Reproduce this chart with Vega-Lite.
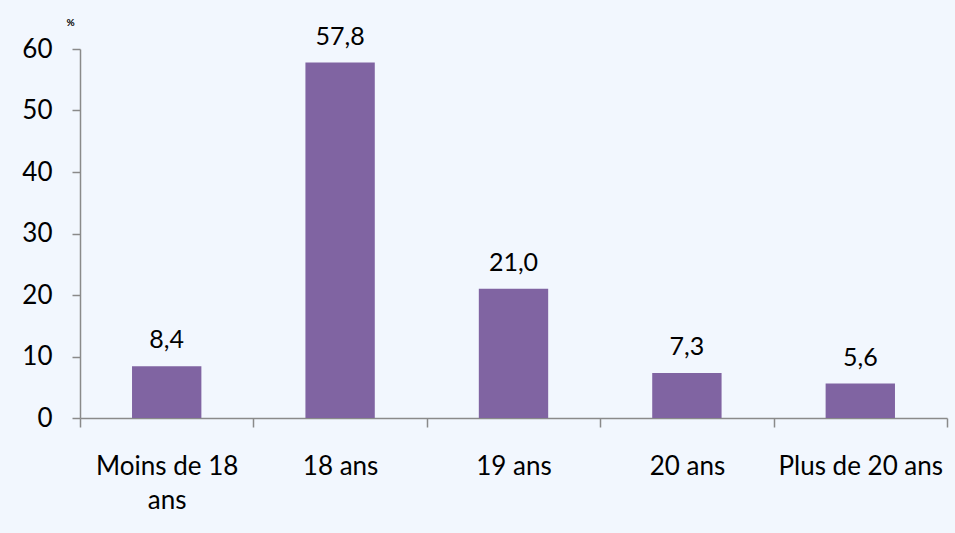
{
  "$schema": "https://vega.github.io/schema/vega-lite/v6.json",
  "autosize": {"type": "none"},
  "width": 867,
  "height": 369,
  "padding": {"left": 80, "top": 49, "right": 8, "bottom": 115},
  "background": "#f2f7fe",
  "config": {
    "view": {"stroke": null},
    "font": "Lato",
    "axis": {"labelFont": "Lato", "titleFont": "Lato"}
  },
  "data": {
    "values": [
      {"categorie": "Moins de 18 ans", "pourcentage": 8.4, "etiquette": "8,4"},
      {"categorie": "18 ans", "pourcentage": 57.8, "etiquette": "57,8"},
      {"categorie": "19 ans", "pourcentage": 21.0, "etiquette": "21,0"},
      {"categorie": "20 ans", "pourcentage": 7.3, "etiquette": "7,3"},
      {"categorie": "Plus de 20 ans", "pourcentage": 5.6, "etiquette": "5,6"}
    ]
  },
  "encoding": {
    "x": {
      "field": "categorie",
      "type": "nominal",
      "sort": null,
      "scale": {"paddingInner": 0, "paddingOuter": 0},
      "axis": {
        "title": null,
        "labelAngle": 0,
        "labelFontSize": 26,
        "labelColor": "#000000",
        "labelBaseline": "alphabetic",
        "labelPadding": 47,
        "labelLineHeight": 34,
        "labelExpr": "datum.value == 'Moins de 18 ans' ? ['Moins de 18', 'ans'] : datum.value",
        "tickBand": "extent",
        "tickSize": 9,
        "tickColor": "#8a8a8a",
        "tickWidth": 1.5,
        "domainColor": "#8a8a8a",
        "domainWidth": 1.5,
        "labelOverlap": false
      }
    },
    "y": {
      "field": "pourcentage",
      "type": "quantitative",
      "scale": {"domain": [0, 60]},
      "axis": {
        "values": [0, 10, 20, 30, 40, 50, 60],
        "grid": false,
        "title": "%",
        "titleAngle": 0,
        "titleFontSize": 10,
        "titleFontWeight": "bold",
        "titleColor": "#000000",
        "titleAlign": "center",
        "titleBaseline": "middle",
        "titleX": -10,
        "titleY": -27,
        "labelFontSize": 26,
        "labelColor": "#000000",
        "labelPadding": 20,
        "tickSize": 8,
        "tickColor": "#8a8a8a",
        "tickWidth": 1.5,
        "domainColor": "#8a8a8a",
        "domainWidth": 1.5
      }
    }
  },
  "layer": [
    {"mark": {"type": "bar", "color": "#8064a2", "width": {"band": 0.4}}},
    {
      "mark": {"type": "text", "fontSize": 25, "color": "#000000", "baseline": "alphabetic", "dy": -18},
      "encoding": {"text": {"field": "etiquette"}}
    }
  ]
}
